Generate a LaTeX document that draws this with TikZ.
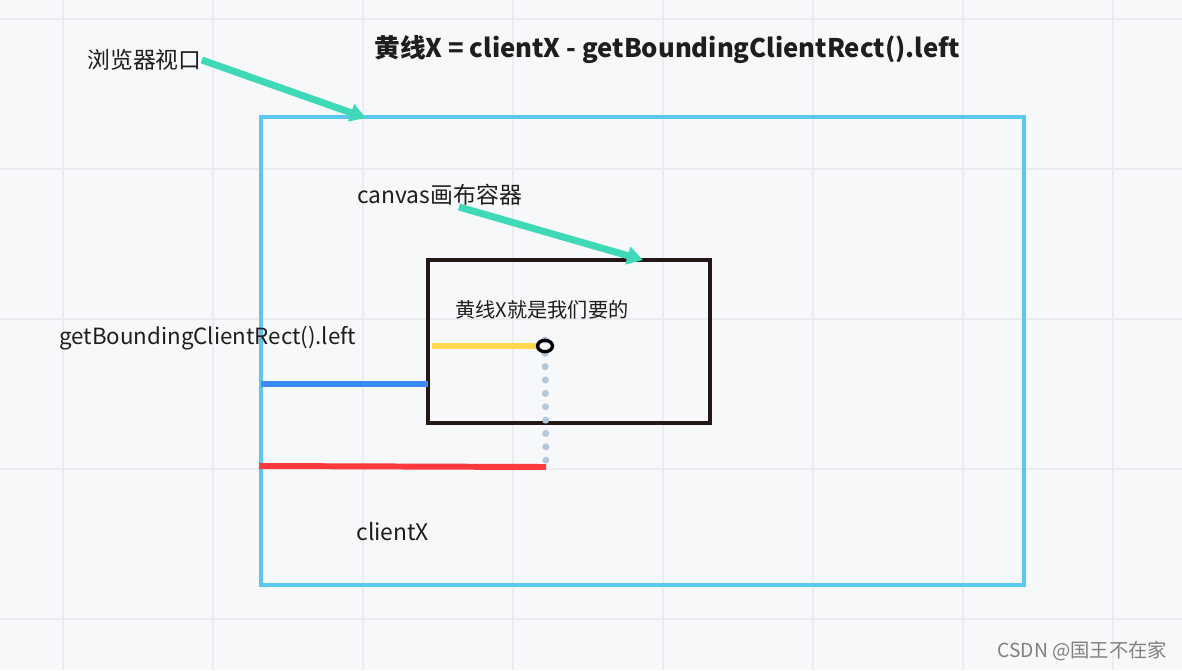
\documentclass[tikz,border=0pt]{standalone}
\usepackage{fontspec}
\setmainfont{Noto Sans CJK SC}
\usetikzlibrary{arrows.meta,shapes.geometric}

\tikzset{
  lbl/.style={anchor=west, inner sep=0pt, text=txtdark, font=\fontsize{13}{15}\selectfont},
  pointer/.style={line width=4pt, teal1, -{Triangle[length=9pt, width=10pt]}},
  mark line/.style={line width=3.4pt},
  ring/.style={draw=black, line width=1.9pt, ellipse, minimum width=8.5pt, minimum height=6.5pt, inner sep=0pt},
}

\begin{document}
\begin{tikzpicture}[x=0.02cm, y=-0.02cm]
  % colors close to the figure
  \definecolor{bgcol}{RGB}{247,248,250}
  \definecolor{gridcol}{RGB}{234,236,240}
  \definecolor{txtdark}{RGB}{30,30,30}
  \definecolor{teal1}{RGB}{64,217,184}
  \definecolor{skyblue}{RGB}{91,200,240}
  \definecolor{boxblack}{RGB}{35,24,21}
  \definecolor{lineblue}{RGB}{61,138,247}
  \definecolor{lineyellow}{RGB}{255,216,77}
  \definecolor{linered}{RGB}{255,58,61}
  \definecolor{dotgray}{RGB}{180,200,220}

  % background and grid (150px cells)
  \fill[bgcol] (0,0) rectangle (1182,670);
  \useasboundingbox (0,0) rectangle (1182,670);
  \foreach \gx in {63,213,...,1113} \draw[gridcol, line width=1pt] (\gx,0) -- (\gx,670);
  \foreach \gy in {19,169,...,619} \draw[gridcol, line width=1pt] (0,\gy) -- (1182,\gy);

  % browser viewport and canvas
  \draw[skyblue, line width=2pt] (261,117) rectangle (1024,585);
  \draw[boxblack, line width=1.9pt] (428,260) rectangle (710,423);

  % texts
  \node[lbl, font=\fontsize{14.6}{16}\selectfont\bfseries] (title) at (374,50) {黄线X = clientX - getBoundingClientRect().left};
  \node[lbl] (viewport) at (87,60) {浏览器视口};
  \node[lbl] (canvas) at (357,195) {canvas画布容器};
  \node[lbl, font=\fontsize{11.5}{13}\selectfont] (want) at (455,310) {黄线X就是我们要的};
  \node[lbl, font=\fontsize{12.7}{15}\selectfont] (rectleft) at (59,338) {getBoundingClientRect().left};
  \node[lbl] (client) at (356,532) {clientX};
  \node[lbl, text=gray, font=\fontsize{11}{13}\selectfont] (mark) at (997,651) {CSDN @国王不在家};

  % pointers
  \coordinate (vpend) at (366,118);
  \coordinate (cvstart) at (459,207);
  \coordinate (cvend) at (643,260);
  \draw[pointer] (viewport.east) -- (vpend);
  \draw[pointer] (cvstart) -- (cvend);

  % measure lines
  \coordinate (blueA) at (261,384);
  \coordinate (blueB) at (428,384);
  \coordinate (yelA) at (432,346);
  \coordinate (yelB) at (540,346);
  \coordinate (redA) at (259,466);
  \coordinate (redB) at (546,467);
  \coordinate (dottop) at (545,340);

  \draw[dotgray, line width=4pt, line cap=round, dash pattern=on 0pt off 7.6pt] (dottop) -- (redB);
  \draw[mark line, lineblue] (blueA) -- (blueB);
  \draw[mark line, lineyellow] (yelA) -- (yelB);
  \draw[mark line, linered] (redA) -- (redB);
  \node[ring] (dot) at (545,346) {};
\end{tikzpicture}
\end{document}
